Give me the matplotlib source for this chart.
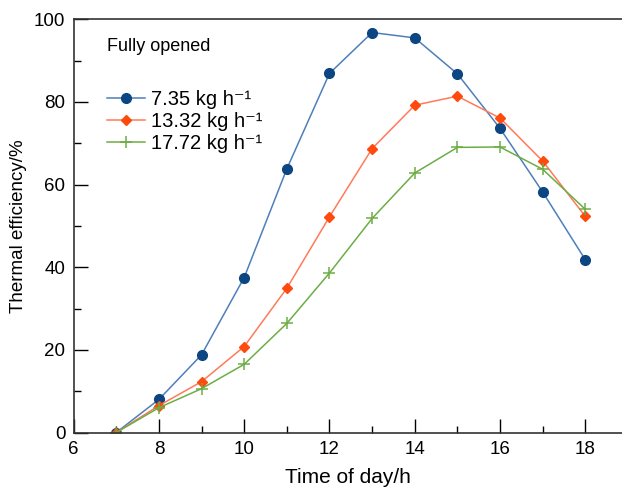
import numpy as np
import matplotlib.pyplot as plt
from matplotlib.ticker import MultipleLocator

plt.rcParams['font.family'] = ['Liberation Sans', 'DejaVu Sans']

# 时间与三种流量下的热效率
hours = [7, 8, 9, 10, 11, 12, 13, 14, 15, 16, 17, 18]
eff_735 = [0, 8.0, 18.8, 37.5, 63.8, 86.9, 96.8, 95.5, 86.8, 73.6, 58.2, 41.8]
eff_1332 = [0, 6.5, 12.3, 20.8, 34.9, 52.2, 68.7, 79.2, 81.4, 76.1, 65.7, 52.3]
eff_1772 = [0, 6.0, 10.6, 16.5, 26.4, 38.6, 51.8, 62.8, 69.0, 69.1, 63.7, 54.0]
labels = ["7.35 kg h\u207b\u00b9", "13.32 kg h\u207b\u00b9", "17.72 kg h\u207b\u00b9"]

fig = plt.figure(figsize=(6.22, 4.92), dpi=100)
ax = fig.add_axes([73.6 / 622, 59.5 / 492, (622 - 73.6) / 622, (432.5 - 19.3) / 492])

ax.plot(hours, eff_735, color="#4f7fba", lw=1.1, marker="o", ms=7,
        mfc="#0b4582", mec="#0b4582", label=labels[0])
ax.plot(hours, eff_1332, color="#ff7a5a", lw=1.1, marker="D", ms=5,
        mfc="#ff4a0d", mec="#ff4a0d", label=labels[1])
ax.plot(hours, eff_1772, color="#6cad45", lw=1.1, marker="+", ms=8,
        mew=1.1, label=labels[2])

ax.set_xlim(6, 18.86)
ax.set_ylim(0, 100)
ax.xaxis.set_major_locator(MultipleLocator(2))
ax.xaxis.set_minor_locator(MultipleLocator(1))
ax.yaxis.set_major_locator(MultipleLocator(20))
ax.yaxis.set_minor_locator(MultipleLocator(10))
ax.tick_params(which="major", direction="in", length=10, width=1, labelsize=13.5, pad=6)
ax.tick_params(which="minor", direction="in", length=5, width=1)
ax.tick_params(top=False, right=False, which="both")
ax.spines["right"].set_visible(False)
for s in ["left", "bottom", "top"]:
    ax.spines[s].set_linewidth(1.2)
    ax.spines[s].set_color("#333333")

ax.set_xlabel("Time of day/h", fontsize=15, labelpad=7)
ax.set_ylabel("Thermal efficiency/%", fontsize=13.5, labelpad=5)

ax.text(0.061, 0.935, "Fully opened", transform=ax.transAxes, fontsize=13, va="center")
ax.legend(loc="upper left", bbox_to_anchor=(0.035, 0.862), frameon=False, fontsize=14.5,
          handlelength=1.9, handletextpad=0.3, labelspacing=0.13, borderpad=0.2)

fig.savefig("out.png", dpi=100)
